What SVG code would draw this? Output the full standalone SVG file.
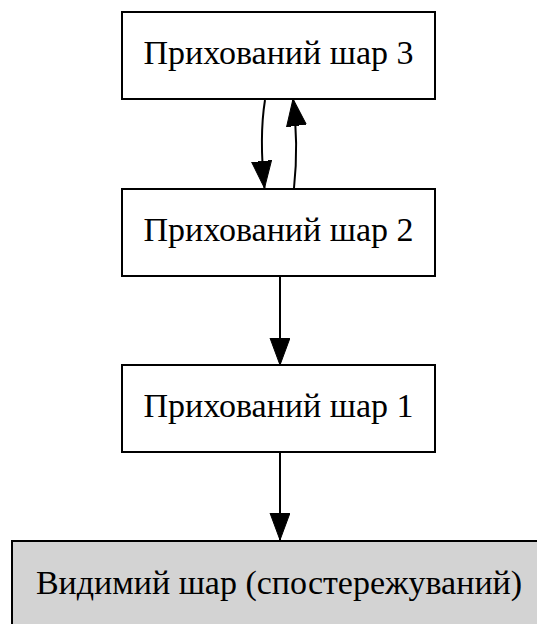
<svg xmlns="http://www.w3.org/2000/svg" width="537" height="624" viewBox="0 0 537 624">
  <style>
    .node rect { fill: #ffffff; stroke: #000000; stroke-width: 2; }
    .node.observed rect { fill: #d3d3d3; }
    .node text { font-family: 'Liberation Serif', 'Times New Roman', Times, serif; font-size: 34px; fill: #000000; text-anchor: middle; }
    .edge path { fill: none; stroke: #000000; stroke-width: 2; }
  </style>
  <defs>
    <marker id="arrow" markerUnits="userSpaceOnUse" markerWidth="30" markerHeight="24" refX="27" refY="10" orient="auto">
      <polygon points="0,0 27,10 0,20" fill="#000000" stroke="#000000" stroke-width="1"/>
    </marker>
  </defs>
  <rect width="537" height="624" fill="#ffffff"/>

  <!-- edges between layers -->
  <g id="connectors" class="edge">
    <path d="M265,100 C261,125 261,155 264.5,188" marker-end="url(#arrow)"/>
    <path d="M294,188 C297,160 297,130 293,99" marker-end="url(#arrow)"/>
    <path d="M280,277 L280,365" marker-end="url(#arrow)"/>
    <path d="M280,453 L280,540" marker-end="url(#arrow)"/>
  </g>

  <g id="hidden3" class="node">
    <rect x="122" y="12" width="313" height="87"/>
    <text x="278.5" y="64">Прихований шар 3</text>
  </g>
  <g id="hidden2" class="node">
    <rect x="122" y="189" width="313" height="87"/>
    <text x="278.5" y="241">Прихований шар 2</text>
  </g>
  <g id="hidden1" class="node">
    <rect x="122" y="365" width="313" height="87"/>
    <text x="278.5" y="417">Прихований шар 1</text>
  </g>
  <g id="visible" class="node observed">
    <rect x="12" y="541" width="538" height="87"/>
    <text x="279" y="594" font-size="34.4">Видимий шар (спостережуваний)</text>
  </g>
</svg>
